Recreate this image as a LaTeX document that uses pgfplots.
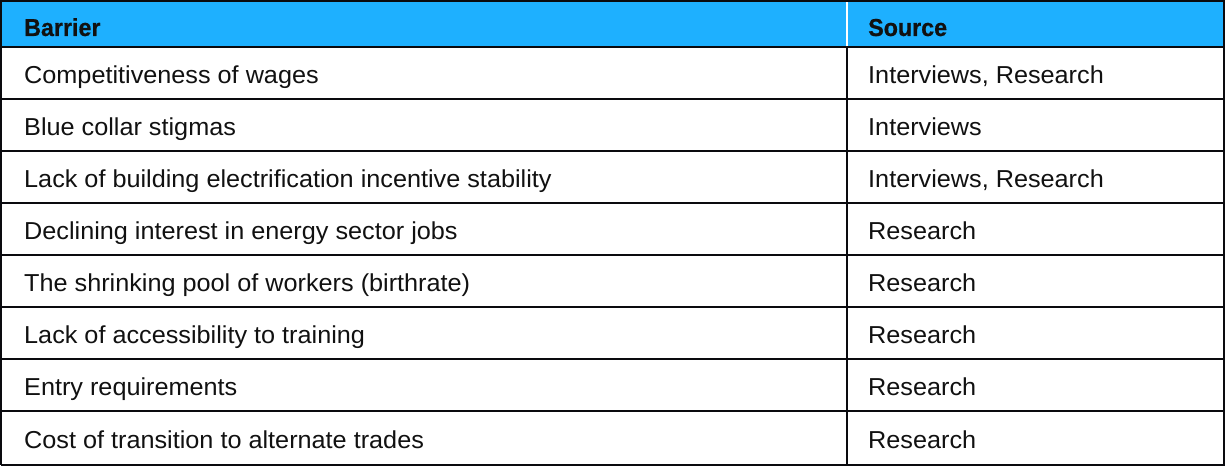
\documentclass[border=0pt]{standalone}
\usepackage{fontspec}
\setmainfont{Liberation Sans}[FakeStretch=1.03, BoldFeatures={FakeStretch=0.95, FakeBold=0.6}]
\usepackage{pgfplots}
\pgfplotsset{compat=1.18}
\definecolor{hdr}{RGB}{30,176,255}
\definecolor{ink}{RGB}{17,17,17}
\definecolor{rule}{RGB}{10,10,14}
\begin{document}
\begin{tikzpicture}
\begin{axis}[
  scale only axis, width=1225bp, height=466bp,
  xmin=0, xmax=1225, ymin=0, ymax=466,
  hide axis, clip=false,
]
% background
\addplot[draw=none, fill=white] coordinates {(0,0) (1225,0) (1225,466) (0,466)} \closedcycle;
% header fill
\addplot[draw=none, fill=hdr] coordinates {(1,419) (1224,419) (1224,465) (1,465)} \closedcycle;
% horizontal rules
\foreach \yy in {367,315,263,211,159,107,55} {
  \edef\temp{\noexpand\addplot[rule, line width=1.1bp] coordinates {(1,\yy) (1224,\yy)};}
  \temp
}
\addplot[rule, line width=2bp] coordinates {(1,419) (1224,419)};
% vertical divider
\addplot[rule, line width=1.1bp] coordinates {(847,1) (847,419)};
\addplot[white, line width=1.5bp] coordinates {(847,419.5) (847,464)};
% outer border
\addplot[rule, line width=2bp] coordinates {(1.1,1.1) (1223.9,1.1) (1223.9,464.9) (1.1,464.9) (1.1,1.1)};
% text
\tikzset{every node/.style={anchor=base west, inner sep=0pt, text=ink, font=\fontsize{24.5bp}{28bp}\selectfont}}
\node[font=\fontsize{24.5bp}{28bp}\selectfont\bfseries] at (axis cs:24,430) {Barrier};
\node[font=\fontsize{24.5bp}{28bp}\selectfont\bfseries] at (axis cs:868,430) {Source};
\node at (axis cs:24,382) {Competitiveness of wages};
\node at (axis cs:868,382) {Interviews, Research};
\node at (axis cs:24,330) {Blue collar stigmas};
\node at (axis cs:868,330) {Interviews};
\node at (axis cs:24,278) {Lack of building electrification incentive stability};
\node at (axis cs:868,278) {Interviews, Research};
\node at (axis cs:24,226) {Declining interest in energy sector jobs};
\node at (axis cs:868,226) {Research};
\node at (axis cs:24,174) {The shrinking pool of workers (birthrate)};
\node at (axis cs:868,174) {Research};
\node at (axis cs:24,122) {Lack of accessibility to training};
\node at (axis cs:868,122) {Research};
\node at (axis cs:24,70) {Entry requirements};
\node at (axis cs:868,70) {Research};
\node at (axis cs:24,18) {Cost of transition to alternate trades};
\node at (axis cs:868,18) {Research};
\end{axis}
\end{tikzpicture}
\end{document}
